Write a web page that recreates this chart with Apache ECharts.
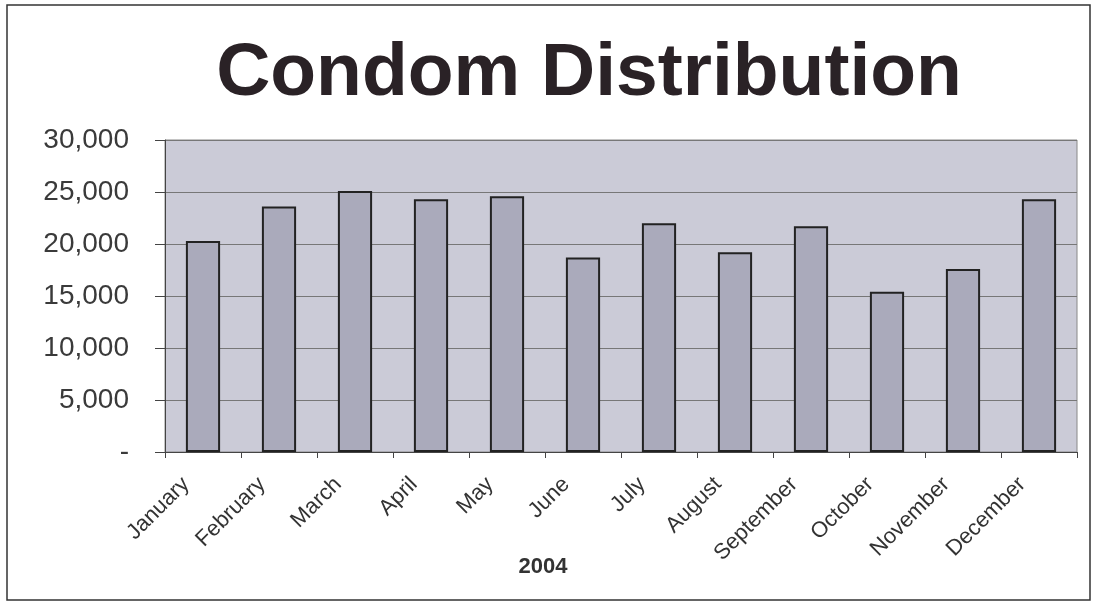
<!DOCTYPE html>
<html><head><meta charset="utf-8">
<script src="https://cdn.jsdelivr.net/npm/echarts@6/dist/echarts.min.js"></script>
<style>html,body{margin:0;padding:0;background:#fff;}#c{width:1096px;height:609px;}</style>
</head><body><div id="c"></div>
<script>
const categories = ['January','February','March','April','May','June','July','August','September','October','November','December'];
const distributed = [20300, 23600, 25100, 24300, 24600, 18700, 22000, 19200, 21700, 15400, 17600, 24300];
const chartTitle = 'Condom Distribution';
const xName = '2004';

const chart = echarts.init(document.getElementById('c'));
chart.setOption({
  animation: false,
  backgroundColor: '#fff',
  title: {
    text: chartTitle, left: 584, textAlign: 'center', top: 32,
    textStyle: { fontFamily: 'Liberation Sans, Arial', fontWeight: 'bold', fontSize: 75, color: '#2a2226' }
  },
  graphic: [{
    type: 'rect', shape: { x: 7, y: 5, width: 1083, height: 595 },
    style: { fill: 'none', stroke: '#333', lineWidth: 1.5 }, silent: true
  }],
  grid: { left: 165, right: 19, top: 140, bottom: 157, show: true, backgroundColor: '#cbcbd7', borderColor: '#888', borderWidth: 1 },
  xAxis: {
    type: 'category', data: categories,
    name: xName, nameLocation: 'middle', nameGap: 104, nameMoveOverlap: false,
    nameTextStyle: { fontFamily: 'Liberation Sans, Arial', fontWeight: 'bold', fontSize: 22, color: '#333', padding: [0, 156, 0, 0] },
    axisLine: { lineStyle: { color: '#444', width: 1 } },
    axisTick: { show: true, length: 6, lineStyle: { color: '#444' } },
    axisLabel: { rotate: 45, fontFamily: 'Liberation Sans, Arial', fontSize: 22, color: '#333', margin: 12, padding: [0, 24, 0, 0] }
  },
  yAxis: {
    type: 'value', min: 0, max: 30000, interval: 5000,
    axisLine: { show: true, lineStyle: { color: '#444' } },
    axisTick: { show: true, length: 10, lineStyle: { color: '#444' } },
    splitLine: { lineStyle: { color: '#777', width: 1 } },
    axisLabel: {
      fontFamily: 'Liberation Sans, Arial', fontSize: 28, color: '#3a3a3a', margin: 36,
      formatter: v => v === 0 ? '-' : v.toLocaleString('en-US')
    }
  },
  series: [{
    type: 'bar', data: distributed, barWidth: '45%',
    itemStyle: { color: '#aaaabb', borderColor: '#222', borderWidth: 2 }
  }]
});
</script></body></html>
